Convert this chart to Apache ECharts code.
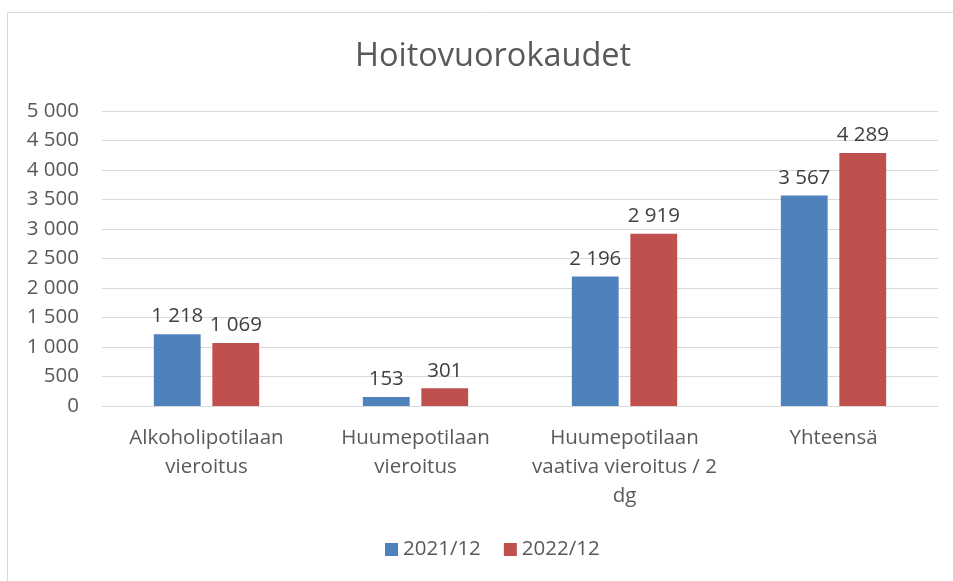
<!DOCTYPE html>
<html>
<head>
<meta charset="utf-8">
<script src="https://cdn.jsdelivr.net/npm/echarts@6/dist/echarts.min.js"></script>
<style>
html, body { margin: 0; padding: 0; background: #fff; }
#main { width: 953px; height: 581px; }
</style>
</head>
<body>
<div id="main"></div>
<script>
// data
var categories = ['Alkoholipotilaan\nvieroitus', 'Huumepotilaan\nvieroitus', 'Huumepotilaan\nvaativa vieroitus / 2\ndg', 'Yhteensä'];
var seriesNames = ['2021/12', '2022/12'];
var values2021 = [1218, 153, 2196, 3567];
var values2022 = [1069, 301, 2919, 4289];

var textColor = '#595959';
var fontFam = '"Open Sans", sans-serif';

// 1 218 style
function fmt(v) {
	return String(v).replace(/\B(?=(\d{3})+(?!\d))/g, ' ');
}

var myChart = echarts.init(document.getElementById('main'));

var labelStyle = {
	show: true,
	position: 'top',
	distance: 7,
	color: '#404040',
	fontSize: 20.5,
	fontFamily: fontFam,
	formatter: function (p) { return fmt(p.value); }
};

var option = {
	animation: false,
	backgroundColor: '#fff',
	title: {
		text: 'Hoitovuorokaudet',
		left: 350,
		top: 35,
		textStyle: {
			color: textColor,
			fontSize: 32.5,
			fontWeight: 'normal',
			fontFamily: fontFam
		}
	},
	graphic: [{
		type: 'rect',
		shape: { x: 7.5, y: 12.5, width: 960, height: 600 },
		style: { fill: 'none', stroke: '#d9d9d9', lineWidth: 1 },
		silent: true,
		z: -1
	}],
	legend: {
		bottom: 16,
		left: 380,
		itemWidth: 13,
		itemHeight: 13,
		itemGap: 23,
		icon: 'rect',
		data: seriesNames,
		textStyle: {
			color: textColor,
			fontSize: 20.5,
			fontFamily: fontFam
		}
	},
	grid: {
		left: 102,
		right: 15,
		top: 111,
		bottom: 175
	},
	xAxis: {
		type: 'category',
		data: categories,
		axisTick: { show: false },
		axisLine: { lineStyle: { color: '#d9d9d9', width: 1 } },
		axisLabel: {
			color: textColor,
			fontSize: 20.5,
			lineHeight: 29,
			margin: 18,
			interval: 0,
			fontFamily: fontFam
		}
	},
	yAxis: {
		type: 'value',
		min: 0,
		max: 5000,
		interval: 500,
		axisLine: { show: false },
		axisTick: { show: false },
		splitLine: { lineStyle: { color: '#d9d9d9', width: 1 } },
		axisLabel: {
			color: textColor,
			fontSize: 20.5,
			margin: 23,
			fontFamily: fontFam,
			formatter: function (v) { return fmt(v); }
		}
	},
	series: [{
		name: seriesNames[0],
		type: 'bar',
		barWidth: '22.4%',
		barGap: '25%',
		data: values2021,
		itemStyle: { color: '#4F81BD' },
		label: labelStyle
	}, {
		name: seriesNames[1],
		type: 'bar',
		barWidth: '22.4%',
		barGap: '25%',
		data: values2022,
		itemStyle: { color: '#C0504D' },
		label: labelStyle
	}]
};

myChart.setOption(option);
window.onresize = myChart.resize;
</script>
</body>
</html>
